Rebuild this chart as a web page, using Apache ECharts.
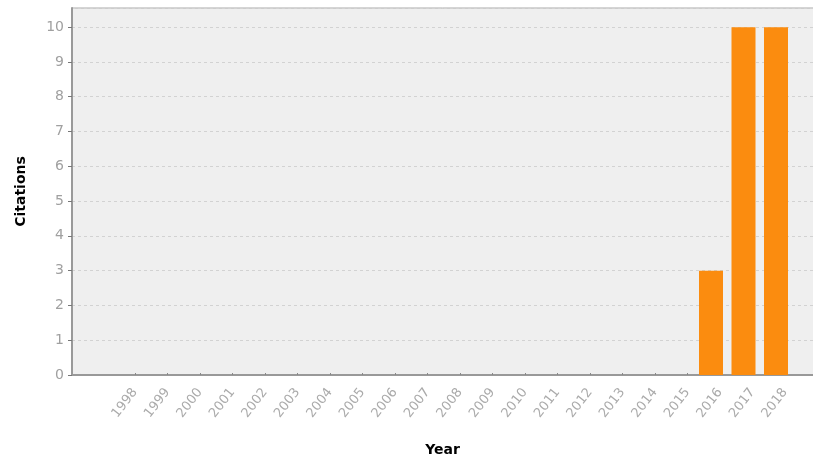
<!DOCTYPE html>
<html><head><meta charset="utf-8">
<script src="https://cdn.jsdelivr.net/npm/echarts@6/dist/echarts.min.js"></script>
<style>html,body{margin:0;padding:0;background:#fff}#c{width:813px;height:459px}</style>
</head><body><div id="c"></div>
<script>
const years = ['1998','1999','2000','2001','2002','2003','2004','2005','2006','2007','2008','2009','2010','2011','2012','2013','2014','2015','2016','2017','2018'];
const citations = [0,0,0,0,0,0,0,0,0,0,0,0,0,0,0,0,0,0,3,10,10];
const yTicks = [0,1,2,3,4,5,6,7,8,9,10];

const chart = echarts.init(document.getElementById('c'));
const Y_MAX = 10.55;
chart.setOption({
  animation: false,
  grid: [
    {left: 72, right: 0, top: 8, bottom: 84, show: true, backgroundColor: '#efefef', borderWidth: 0, outerBoundsMode: 'none', containLabel: false},
    {left: 109.75, right: 20.75, top: 8, bottom: 84, outerBoundsMode: 'none', containLabel: false},
    {left: 118.75, right: 11.75, top: 8, bottom: 84, outerBoundsMode: 'none', containLabel: false}
  ],
  xAxis: [
    {gridIndex: 0, type: 'value', min: 0, max: 1, show: true,
     axisLine: {show: true, onZero: false, lineStyle: {color: '#999', width: 2}},
     axisTick: {show: false}, axisLabel: {show: false}, splitLine: {show: false},
     name: 'Year', nameLocation: 'middle', nameGap: 68,
     nameTextStyle: {fontFamily: 'DejaVu Sans', fontWeight: 'bold', fontSize: 14, color: '#000'}},
    {gridIndex: 1, type: 'category', data: years, boundaryGap: true,
     axisLine: {show: false}, axisTick: {show: false}, axisLabel: {show: false}, splitLine: {show: false}},
    {gridIndex: 2, type: 'category', data: years, boundaryGap: true,
     axisLine: {show: false},
     axisTick: {show: true, alignWithLabel: true, inside: true, length: 2, lineStyle: {color: '#888', width: 1}},
     axisLabel: {rotate: 52, interval: 0, color: '#aaa', fontSize: 13, fontFamily: 'DejaVu Sans', margin: 15},
     splitLine: {show: false}}
  ],
  yAxis: [
    {gridIndex: 0, type: 'value', min: 0, max: Y_MAX, interval: 1,
     axisLine: {show: true, lineStyle: {color: '#999', width: 2}},
     axisTick: {show: true, length: 4, lineStyle: {color: '#777'}},
     axisLabel: {color: '#a0a0a0', fontSize: 14, fontFamily: 'DejaVu Sans', margin: 8, showMaxLabel: false,
       formatter: v => yTicks.includes(v) ? String(v) : ''},
     splitLine: {show: true, lineStyle: {color: '#d2d2d2', type: [3, 3]}},
     name: 'Citations', nameLocation: 'middle', nameGap: 44, nameRotate: 90,
     nameTextStyle: {fontFamily: 'DejaVu Sans', fontWeight: 'bold', fontSize: 14, color: '#000'}},
    {gridIndex: 1, type: 'value', min: 0, max: Y_MAX, show: false, splitLine: {show: false}},
    {gridIndex: 2, type: 'value', min: 0, max: Y_MAX, show: false, splitLine: {show: false}}
  ],
  graphic: [
    {type: 'line', shape: {x1: 72, y1: 8, x2: 813, y2: 8}, style: {stroke: '#aaa', lineWidth: 1}}
  ],
  series: [{
    type: 'bar', xAxisIndex: 1, yAxisIndex: 1, data: citations, barWidth: 24,
    itemStyle: {color: '#fb8c0f', borderWidth: 0}
  }]
});
</script></body></html>
